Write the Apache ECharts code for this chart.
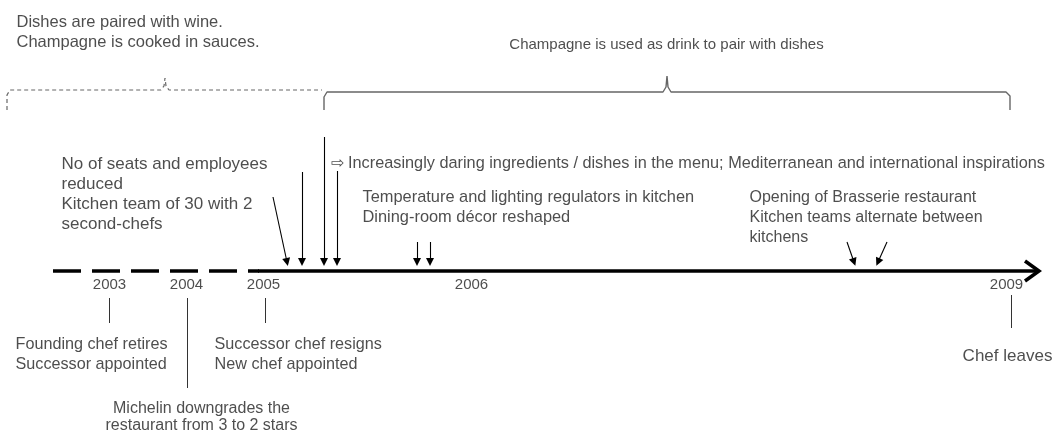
<!DOCTYPE html>
<html>
<head>
<meta charset="utf-8">
<script src="https://cdn.jsdelivr.net/npm/echarts@6/dist/echarts.min.js"></script>
<style>
  html, body { margin: 0; padding: 0; background: #fff; }
  #chart { width: 1055px; height: 435px; }
</style>
</head>
<body>
<div id="chart"></div>
<script>
  // timeline diagram: positions are in diagram units along the hidden axes
  const yearLabels = ['2003', '2004', '2005', '2006', '2009'];
  const yearPos = [110, 187, 264, 472, 1007];
  // drop lines under the years (x, top, bottom)
  const dropX = [109, 187, 265, 1011];
  const dropTop = [298, 298, 298, 295];
  const dropBottom = [323, 388, 323, 328];

  // arrows pointing at the timeline
  const arrowFrom = [[273, 197], [302, 172], [324, 137], [337, 171], [417, 242], [430, 242], [847, 242], [887, 242]];
  const arrowTo = [[287, 262], [302, 262], [324, 262], [337, 262], [417, 262], [430, 262], [854, 262], [878, 262]];

  // notes: text, x, top, align, line height, font size
  const noteTexts = [
    'Dishes are paired with wine.\nChampagne is cooked in sauces.',
    'Champagne is used as drink to pair with dishes',
    'No of seats and employees\nreduced\nKitchen team of 30 with 2\nsecond-chefs',
    '\u21e8 Increasingly daring ingredients / dishes in the menu; Mediterranean and international inspirations',
    'Temperature and lighting regulators in kitchen\nDining-room d\u00e9cor reshaped',
    'Opening of Brasserie restaurant\nKitchen teams alternate between\nkitchens',
    'Founding chef retires\nSuccessor appointed',
    'Successor chef resigns\nNew chef appointed',
    'Michelin downgrades the\nrestaurant from 3 to 2 stars',
    'Chef leaves'
  ];
  const noteX = [17, 667, 62, 331, 363, 750, 16, 215, 202, 1008];
  const noteTop = [13, 35, 155, 154, 188, 188, 335, 335, 401, 347];
  const noteAlign = ['left', 'center', 'left', 'left', 'left', 'left', 'left', 'left', 'center', 'center'];
  const noteLineHeight = [20, 20, 20, 20, 20, 20, 20, 20, 17, 20];
  const noteFontSize = [16.5, 15, 17, 16.3, 16.4, 16, 16.2, 16.2, 16, 17];

  // braces over the two periods
  const dashedBrace = [[7, 110], [7, 95], [10, 90], [161, 90], [164, 86], [165, 78], [166, 86], [169, 90], [322, 90]];
  const solidBrace = [[324, 110], [324, 97], [327, 92], [663, 92], [666, 87], [667, 76], [668, 87], [671, 92], [1006, 92], [1010, 96], [1010, 110]];

  // timeline itself
  const dashedPart = [[53, 271], [259, 271]];
  const solidPart = [[258, 271], [1037, 271]];
  const arrowHead = [[1025, 261], [1039, 271], [1025, 281]];

  const font = 'Liberation Sans, Arial, Helvetica, sans-serif';

  const chart = echarts.init(document.getElementById('chart'));

  const lineSeries = (data, style) => ({
    type: 'line',
    data: data,
    symbol: 'none',
    silent: true,
    animation: false,
    lineStyle: style
  });

  const option = {
    animation: false,
    grid: { left: 0, right: 0, top: 0, bottom: 0 },
    xAxis: { type: 'value', min: 0, max: 1055, show: false },
    yAxis: { type: 'value', min: 0, max: 435, inverse: true, show: false },
    series: [
      lineSeries(dashedBrace, { color: '#666', width: 1.2, type: [4, 3] }),
      lineSeries(solidBrace, { color: '#666', width: 1.4 }),
      lineSeries(dashedPart, { color: '#000', width: 3.5, type: [28, 11] }),
      lineSeries(solidPart, { color: '#000', width: 3.5 }),
      lineSeries(arrowHead, { color: '#000', width: 3.5, join: 'miter' }),
      {
        type: 'lines',
        coordinateSystem: 'cartesian2d',
        silent: true,
        symbol: ['none', 'triangle'],
        symbolSize: 8,
        lineStyle: { color: '#000', width: 1.1, opacity: 1 },
        data: arrowFrom.map((p, i) => ({ coords: [p, arrowTo[i]] }))
      },
      {
        type: 'lines',
        coordinateSystem: 'cartesian2d',
        silent: true,
        lineStyle: { color: '#333', width: 1, opacity: 1 },
        data: dropX.map((x, i) => ({ coords: [[x, dropTop[i]], [x, dropBottom[i]]] }))
      },
      {
        type: 'scatter',
        silent: true,
        symbolSize: 1,
        itemStyle: { color: 'rgba(0,0,0,0)' },
        label: {
          show: true,
          position: [0, 0],
          align: 'center',
          verticalAlign: 'middle',
          fontFamily: font,
          fontSize: 15,
          color: '#222',
          formatter: p => p.name
        },
        data: yearLabels.map((t, i) => ({ name: t, value: [yearPos[i], 285] }))
      },
      {
        type: 'scatter',
        silent: true,
        symbolSize: 1,
        itemStyle: { color: 'rgba(0,0,0,0)' },
        data: noteTexts.map((t, i) => ({
          name: t,
          value: [noteX[i], noteTop[i]],
          label: {
            show: true,
            position: [0, 0],
            align: noteAlign[i],
            verticalAlign: 'top',
            lineHeight: noteLineHeight[i],
            fontFamily: font,
            fontSize: noteFontSize[i],
            color: '#222',
            formatter: p => p.name
          }
        }))
      }
    ]
  };

  chart.setOption(option);
</script>
</body>
</html>
